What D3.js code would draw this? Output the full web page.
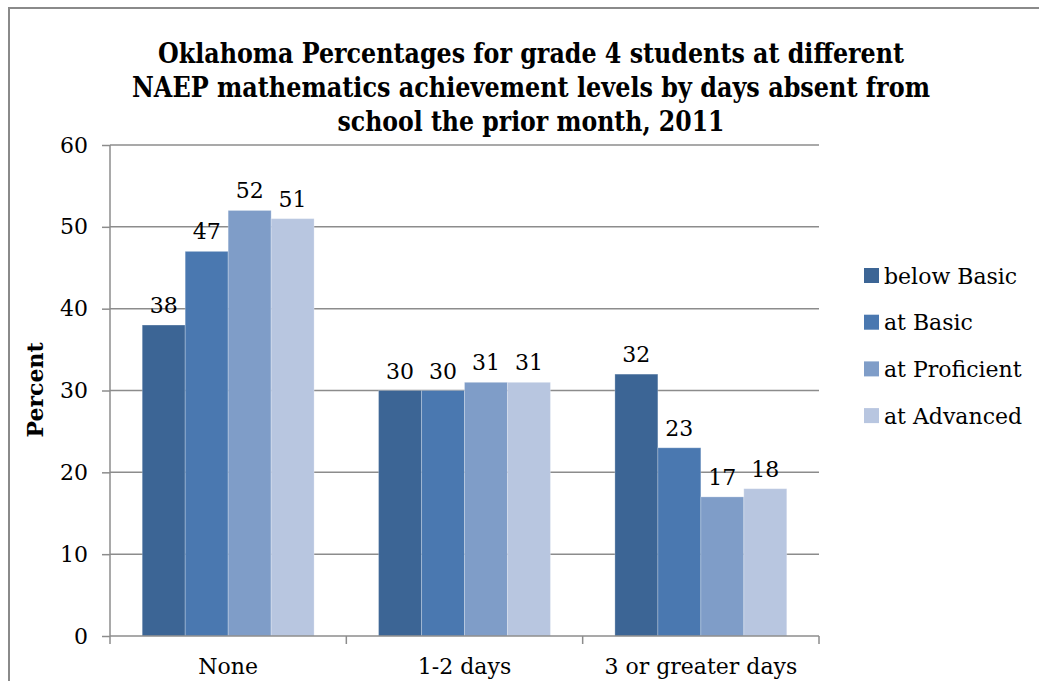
<!DOCTYPE html>
<html><head><meta charset="utf-8">
<script src="https://cdn.jsdelivr.net/npm/d3@7"></script>
<style>html,body{margin:0;padding:0;background:#fff}svg{display:block}</style>
</head><body>
<script>
const categories = ["None", "1-2 days", "3 or greater days"];
const seriesNames = ["below Basic", "at Basic", "at Proficient", "at Advanced"];
const belowBasic = [38, 30, 32];
const atBasic = [47, 30, 23];
const atProficient = [52, 31, 17];
const atAdvanced = [51, 31, 18];
const yTicks = [0, 10, 20, 30, 40, 50, 60];
const titleLines = ["Oklahoma Percentages for grade 4 students at different",
  "NAEP mathematics achievement levels by days absent from",
  "school the prior month, 2011"];
const colors = ["#3C6595", "#4A78B0", "#7F9DC8", "#B8C6E0"];

const series = [belowBasic, atBasic, atProficient, atAdvanced];
const W = 1039, H = 681;
const font = "'DejaVu Serif', 'Liberation Serif', serif";
const fs = 22;
const svg = d3.select("body").append("svg").attr("width", W).attr("height", H);

// outer frame
svg.append("rect").attr("x", 9).attr("y", 8).attr("width", W + 20).attr("height", H + 20)
  .attr("fill", "none").attr("stroke", "#8a8a8a").attr("stroke-width", 2);

const pL = 110, pR = 819, pT = 145, pB = 636;
const x0 = d3.scaleBand().domain(categories).range([pL, pR]).paddingInner(0).paddingOuter(0);
const y = d3.scaleLinear().domain([0, 60]).range([pB, pT]);
const x1 = d3.scaleBand().domain(seriesNames).range([0, x0.bandwidth()]).paddingOuter(0.75).paddingInner(0);

// gridlines
svg.append("g").selectAll("line").data(yTicks.filter(d => d > 0)).join("line")
  .attr("x1", pL).attr("x2", pR).attr("y1", d => y(d)).attr("y2", d => y(d))
  .attr("stroke", "#8c8c8c").attr("stroke-width", 1.5);

// bars
const groups = svg.append("g").selectAll("g").data(categories).join("g")
  .attr("transform", d => `translate(${x0(d)},0)`);
groups.selectAll("rect").data((c, ci) => seriesNames.map((s, si) => ({s, si, v: series[si][ci]}))).join("rect")
  .attr("x", d => x1(d.s)).attr("width", x1.bandwidth())
  .attr("y", d => y(d.v)).attr("height", d => y(0) - y(d.v))
  .attr("fill", d => colors[d.si]).attr("stroke", "rgba(255,255,255,0.25)").attr("stroke-width", 1);
groups.selectAll("text").data((c, ci) => seriesNames.map((s, si) => ({s, si, v: series[si][ci]}))).join("text")
  .attr("x", d => x1(d.s) + x1.bandwidth() / 2).attr("y", d => y(d.v) - 12)
  .attr("text-anchor", "middle").attr("font-family", font).attr("font-size", fs).attr("fill", "#000")
  .text(d => d.v);

// y axis
const yAxis = svg.append("g").attr("transform", `translate(${pL},0)`)
  .call(d3.axisLeft(y).tickValues(yTicks).tickSize(8).tickPadding(14));
yAxis.select(".domain").attr("stroke", "#8c8c8c").attr("stroke-width", 1.5).attr("d", `M0,${pB}V${pT}`);
yAxis.selectAll(".tick line").attr("stroke", "#8c8c8c").attr("stroke-width", 1.5);
yAxis.selectAll(".tick text").attr("font-family", font).attr("font-size", fs).attr("fill", "#000");

// x axis
const xAxis = svg.append("g").attr("transform", `translate(0,${pB})`)
  .call(d3.axisBottom(x0).tickSize(0).tickPadding(22));
xAxis.select(".domain").attr("stroke", "#8c8c8c").attr("stroke-width", 1.5).attr("d", `M${pL},0H${pR}`);
xAxis.selectAll(".tick text").attr("font-family", font).attr("font-size", fs).attr("fill", "#000");
const bounds = [...categories.map(c => x0(c)), pR];
svg.append("g").selectAll("line").data(bounds).join("line")
  .attr("x1", d => d).attr("x2", d => d).attr("y1", pB).attr("y2", pB + 8)
  .attr("stroke", "#8c8c8c").attr("stroke-width", 1.5);

// y label
svg.append("text").attr("transform", "translate(43,390) rotate(-90)").attr("text-anchor", "middle")
  .attr("font-family", font).attr("font-weight", "bold").attr("font-size", fs).text("Percent");

// title
const titleWidths = [746, 798, 387];
svg.append("g").selectAll("text").data(titleLines).join("text")
  .attr("x", 531).attr("y", (d, i) => 63 + i * 34).attr("text-anchor", "middle")
  .attr("font-family", font).attr("font-weight", "bold").attr("font-size", 27)
  .attr("textLength", (d, i) => titleWidths[i]).attr("lengthAdjust", "spacingAndGlyphs")
  .text(d => d);

// legend
const lg = svg.append("g").selectAll("g").data(seriesNames).join("g")
  .attr("transform", (d, i) => `translate(864,${275.5 + i * 46.7})`);
lg.append("rect").attr("x", 0).attr("y", -7.5).attr("width", 15).attr("height", 15).attr("fill", (d, i) => colors[i]);
lg.append("text").attr("x", 20).attr("y", 8).attr("font-family", font).attr("font-size", fs).text(d => d);
</script>
</body></html>
